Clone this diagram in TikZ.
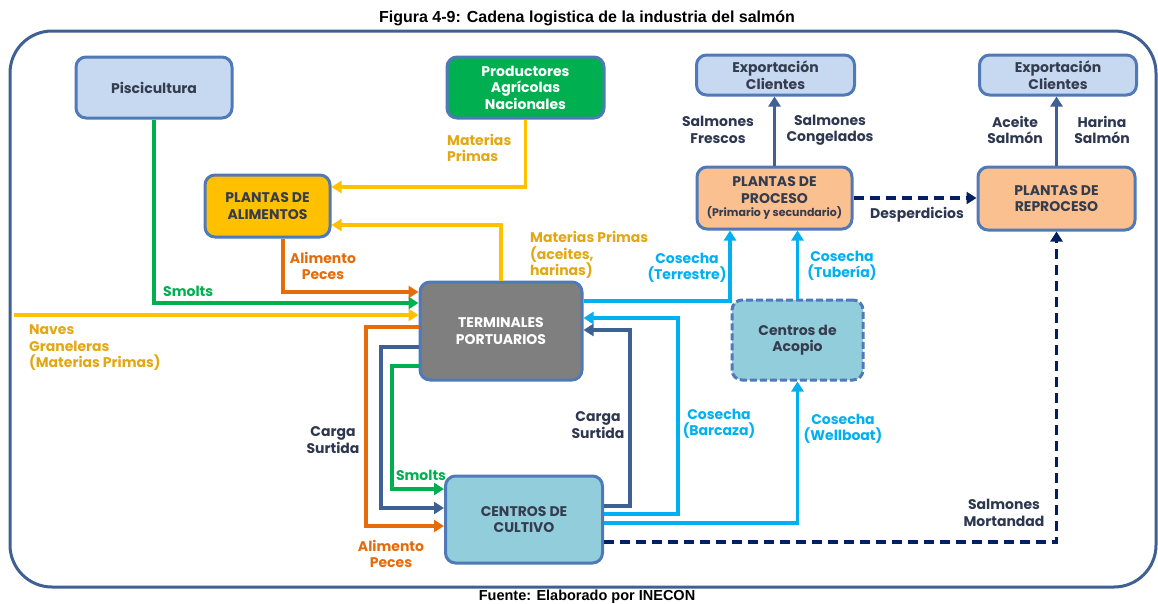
\documentclass[tikz,border=0pt]{standalone}
\usepackage{fontspec}
\setmainfont{Poppins}
\newfontfamily\titlefont{Liberation Sans}
\usetikzlibrary{arrows.meta}
\definecolor{borde}{RGB}{79,121,183}
\definecolor{marcoazul}{RGB}{62,96,146}
\definecolor{azulclaro}{RGB}{198,217,241}
\definecolor{verdecaja}{RGB}{0,176,80}
\definecolor{ambar}{RGB}{255,192,0}
\definecolor{gris}{RGB}{127,127,127}
\definecolor{turquesa}{RGB}{146,205,220}
\definecolor{salmon}{RGB}{250,192,144}
\definecolor{textocaja}{RGB}{52,60,78}
\definecolor{verde}{RGB}{0,176,80}
\definecolor{oro}{RGB}{226,167,20}
\definecolor{naranja}{RGB}{228,108,10}
\definecolor{azulosc}{RGB}{63,96,149}
\definecolor{celeste}{RGB}{0,176,240}
\definecolor{marino}{RGB}{0,32,96}
\definecolor{gristexto}{RGB}{45,55,80}

\begin{document}
\begin{tikzpicture}[x=1pt, y=-1pt, line join=miter, >={Triangle[length=10pt,width=12pt]},
		font=\fontsize{14}{16.5}\selectfont\bfseries,
		caja/.style={draw=borde, line width=3pt, rounded corners=10pt, align=center, text=textocaja, inner sep=2pt},
		flecha/.style={line width=3.6pt, ->},
		etiq/.style={align=center, inner sep=1pt},
		]
		\useasboundingbox (0,0) rectangle (1158,603);
		\draw[marcoazul, line width=3pt, rounded corners=42pt] (10,31) rectangle (1156,587);
		\node[font=\titlefont\fontsize{16}{18}\selectfont\bfseries] (titulo) at (587,18) {Figura 4-9: Cadena logistica de la industria del salmón};
		\node[font=\titlefont\fontsize{14.5}{16}\selectfont\bfseries] (fuente) at (587,597) {Fuente: Elaborado por INECON};
		
		\node[caja, fill=azulclaro, minimum width=156pt, minimum height=61pt] (pisc) at (154,87.5) {Piscicultura};
		\node[caja, fill=verdecaja, text=white, minimum width=157pt, minimum height=61pt] (prod) at (525.5,87.5) {Productores\\Agrícolas\\Nacionales};
		\node[caja, fill=ambar, minimum width=125pt, minimum height=62pt] (alim) at (267.5,206) {PLANTAS DE\\ALIMENTOS};
		\node[caja, fill=gris, text=white, minimum width=162pt, minimum height=98pt] (term) at (501,331) {TERMINALES\\PORTUARIOS};
		\node[caja, fill=turquesa, minimum width=157pt, minimum height=87pt] (cult) at (524,519.5) {CENTROS DE\\CULTIVO};
		\node[caja, fill=turquesa, dash pattern=on 7pt off 3pt, minimum width=131pt, minimum height=80pt] (acop) at (797.5,340) {Centros de\\Acopio};
		\node[caja, fill=salmon, minimum width=155pt, minimum height=62pt] (proc) at (774.5,198) {PLANTAS DE\\PROCESO\\[-3pt]{\fontsize{11}{12}\selectfont(Primario y secundario)}};
		\node[caja, fill=azulclaro, minimum width=158pt, minimum height=40pt] (exp1) at (775.5,75) {Exportación\\Clientes};
		\node[caja, fill=salmon, minimum width=157pt, minimum height=63pt] (repr) at (1056.5,198.5) {PLANTAS DE\\REPROCESO};
		\node[caja, fill=azulclaro, minimum width=157pt, minimum height=40pt] (exp2) at (1058,75) {Exportación\\Clientes};
		\coordinate (naves) at (14,315);
		
		\draw[flecha, verde] (pisc.south) |- (term.west |- 0,303);
		\draw[flecha, ambar] (prod.south) |- (alim.east |- 0,187);
		\draw[flecha, ambar] (term.north) |- (alim.east |- 0,225);
		\draw[flecha, naranja] (alim.south -| 283,0) |- (term.west |- 0,292);
		\draw[flecha, ambar] (naves) -- (term.west |- 0,315);
		\draw[flecha, naranja] (term.west |- 0,327) -| (366,526) -- (cult.west |- 0,526);
		\draw[flecha, azulosc] (term.west |- 0,347) -| (381,508) -- (cult.west |- 0,508);
		\draw[flecha, verde] (term.west |- 0,366) -| (392,489) -- (cult.west |- 0,489);
		\draw[flecha, azulosc] (cult.east |- 0,506) -| (630,330) -- (term.east |- 0,330);
		\draw[flecha, celeste] (cult.east |- 0,514) -| (678,318) -- (term.east |- 0,318);
		\draw[flecha, celeste] (term.east |- 0,301) -| (proc.south -| 730,0);
		\draw[flecha, celeste] (acop.north) -- (proc.south -| acop.north);
		\draw[flecha, celeste] (cult.east |- 0,523) -| (acop.south);
		\draw[flecha, marino, dash pattern=on 10pt off 6pt] (cult.east |- 0,542) -| (repr.south);
		\draw[flecha, marino, dash pattern=on 10pt off 6pt] (proc.east) -- (repr.west |- proc.east);
		\draw[flecha, azulosc] (proc.north) -- (exp1.south -| proc.north);
		\draw[flecha, azulosc] (repr.north) -- (exp2.south -| repr.north);
		
		\node[etiq, text=verde, anchor=west] (lsmolts1) at (162,291) {Smolts};
		\node[etiq, text=oro, align=left, anchor=west] (lmp1) at (446,148) {Materias\\Primas};
		\node[etiq, text=oro, align=left, anchor=west] (lmp2) at (529,255) {Materias Primas\\(aceites,\\harinas)};
		\node[etiq, text=naranja] (lalim1) at (323,266) {Alimento\\Peces};
		\node[etiq, text=oro, align=left, anchor=west] (lnaves) at (28,348) {Naves\\Graneleras\\(Materias Primas)};
		\node[etiq, text=naranja] (lalim2) at (391,554) {Alimento\\Peces};
		\node[etiq, text=gristexto] (lcarga1) at (333,440) {Carga\\Surtida};
		\node[etiq, text=verde] (lsmolts2) at (421,475) {Smolts};
		\node[etiq, text=gristexto] (lcarga2) at (598,425) {Carga\\Surtida};
		\node[etiq, text=celeste] (lbarc) at (719,424) {Cosecha\\(Barcaza)};
		\node[etiq, text=celeste] (lterr) at (687,268) {Cosecha\\(Terrestre)};
		\node[etiq, text=celeste] (ltub) at (842,266) {Cosecha\\(Tubería)};
		\node[etiq, text=celeste] (lwell) at (843,429) {Cosecha\\(Wellboat)};
		\node[etiq, text=gristexto] (lmort) at (1004,513) {Salmones\\Mortandad};
		\node[etiq, text=gristexto] (ldesp) at (917,215) {Desperdicios};
		\node[etiq, text=gristexto] (lfres) at (718,130) {Salmones\\Frescos};
		\node[etiq, text=gristexto] (lcong) at (830,130) {Salmones\\Congelados};
		\node[etiq, text=gristexto] (lacei) at (1015,130) {Aceite\\Salmón};
		\node[etiq, text=gristexto] (lhari) at (1102,130) {Harina\\Salmón};
	\end{tikzpicture}
\end{document}
